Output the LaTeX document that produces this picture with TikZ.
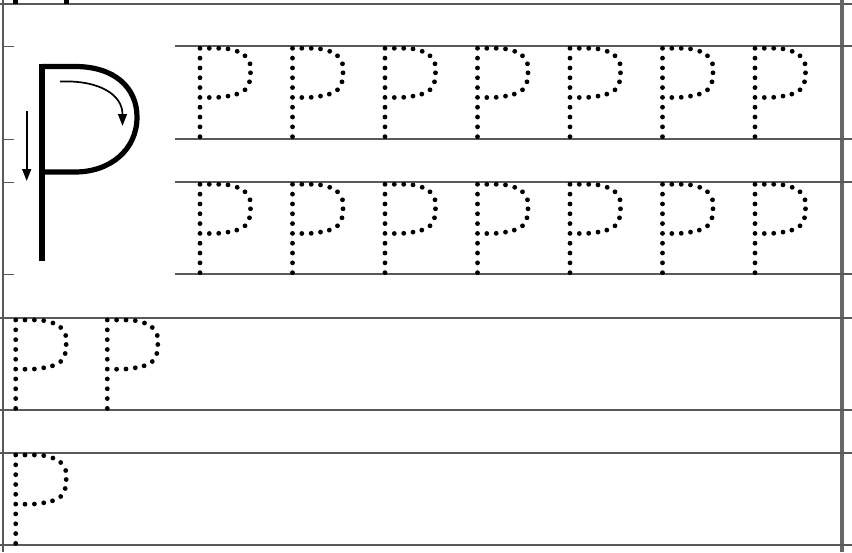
\documentclass[tikz,border=0pt]{standalone}
\usepackage{tikz}
\usetikzlibrary{arrows.meta}
\begin{document}
\begin{tikzpicture}[x=1pt,y=-1pt,
    rule/.style={draw=black!65,line width=1.4pt},
    tick/.style={draw=black!65,line width=1pt},
    letterstroke/.style={draw=black,line width=5.2pt},
    hint/.style={draw=black,line width=1.7pt,-{Triangle[length=12pt,width=9pt]}}]
  \useasboundingbox (0,0) rectangle (852,552);
  % First the frame of the sheet
  \path[rule] (0,4) -- (852,4);
  \path[rule] (3,0) -- (3,552);
  \path[draw=black!60,line width=4pt] (842,0) -- (842,552);
  \fill (13,0) rectangle (18,4);
  \fill (64,0) rectangle (69,4);
  % Then the writing lines
  \foreach \y in {46,139,182,274}
    {\path[rule] (175,\y) -- (852,\y);
     \path[tick] (3,\y) -- (14,\y);}
  \foreach \y in {318,410,453,545}
    \path[rule] (0,\y) -- (852,\y);
  % The model letter with its stroke order
  \path[letterstroke] (42,64) -- (42,261);
  \path[letterstroke,line join=round] (42,66.5) -- (75,66.5)
      .. controls (115,66.5) and (137,88) .. (137,117)
      .. controls (137,150) and (110,172) .. (75,172) -- (42,172);
  \path[hint] (26.7,111) -- (26.7,181);
  \path[hint] (60,81.5) .. controls (100,80) and (122.5,95) .. (122.5,126);
  % Now the dotted letters to trace
  \foreach \px/\py in {200/48.3, 292.5/48.3, 385/48.3, 477.5/48.3, 570/48.3, 662.5/48.3, 755/48.3,
                       200/184.3, 292.5/184.3, 385/184.3, 477.5/184.3, 570/184.3, 662.5/184.3, 755/184.3,
                       15.7/320, 107.3/320, 15.7/455}
    {\foreach \k in {0,...,9}
       \fill (\px,\py+9.82*\k) circle (2.4pt);
     \foreach \dx/\dy in {9.3/0, 18.7/0, 28/0.6, 37.2/3, 45/7.5, 50/15.5, 50.5/24.5, 49.5/33.5,
                          45/41.5, 36.8/45.8, 28/47.8, 18.7/49, 9.3/49.2}
       \fill (\px+\dx,\py+\dy) circle (2.4pt);}
\end{tikzpicture}
\end{document}
